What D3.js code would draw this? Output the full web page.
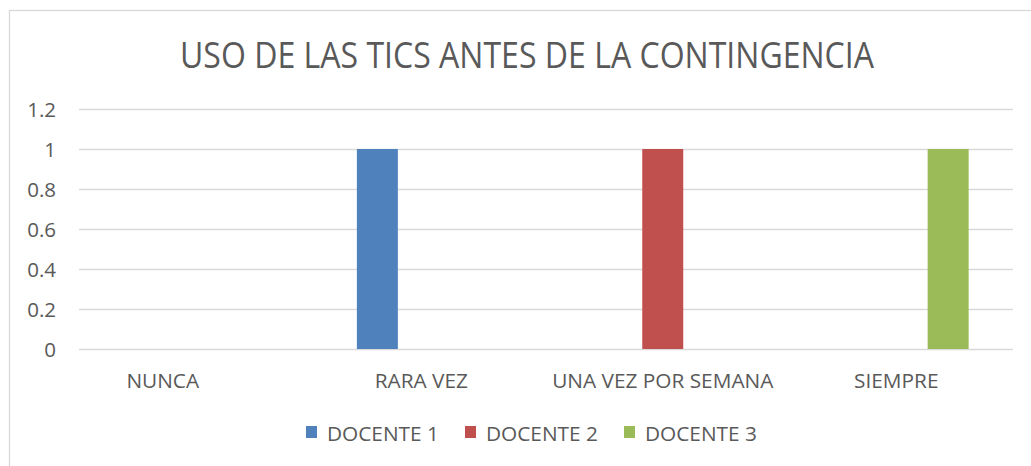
<!DOCTYPE html>
<html>
<head>
<meta charset="utf-8">
<script src="https://cdn.jsdelivr.net/npm/d3@7"></script>
<style>
  body { margin: 0; background: #fff; }
  text { font-family: "Open Sans", "Noto Sans", sans-serif; fill: #595959; }
</style>
</head>
<body>
<svg id="chart"></svg>
<script>
// datos del grafico
var categories = ["NUNCA", "RARA VEZ", "UNA VEZ POR SEMANA", "SIEMPRE"];
var seriesNames = ["DOCENTE 1", "DOCENTE 2", "DOCENTE 3"];
var docente1 = [0, 1, 0, 0];
var docente2 = [0, 0, 1, 0];
var docente3 = [0, 0, 0, 1];
var yTicks = [0, 0.2, 0.4, 0.6, 0.8, 1, 1.2];
var title = "USO DE LAS TICS ANTES DE LA CONTINGENCIA";

function run() {
var width = 1031, height = 466;
var colors = ["#4f81bd", "#c0504d", "#9bbb59"];
var values = [docente1, docente2, docente3];
// desplazamiento de las etiquetas del eje x (en el original no estan centradas)
var labelShift = { "NUNCA": -33, "RARA VEZ": -8 };

var svg = d3.select("#chart").attr("width", width).attr("height", height);

// borde del area del grafico
svg.append("rect")
  .attr("x", 9.5).attr("y", 10.5)
  .attr("width", width).attr("height", height)
  .attr("fill", "none").attr("stroke", "#d9d9d9").attr("stroke-width", 1.3);

var x0 = d3.scaleBand().domain(categories).range([79, 1013]);
var x1 = d3.scaleBand().domain(seriesNames)
  .range([x0.bandwidth() * 0.19, x0.bandwidth() * 0.81])
  .paddingInner(0.21);
var y = d3.scaleLinear().domain([0, 1.2]).range([349, 109]);

// titulo
svg.append("text")
  .attr("x", 527).attr("y", 68)
  .attr("text-anchor", "middle")
  .style("font-size", "36px")
  .attr("textLength", 694).attr("lengthAdjust", "spacingAndGlyphs")
  .text(title);

// lineas de cuadricula
svg.append("g")
  .selectAll("line")
  .data(yTicks)
  .enter()
  .append("line")
  .attr("x1", 79).attr("x2", 1013)
  .attr("y1", function (d) { return Math.round(y(d)) + 0.5; })
  .attr("y2", function (d) { return Math.round(y(d)) + 0.5; })
  .attr("stroke", "#d9d9d9").attr("stroke-width", 1.3);

// eje y
var yAxis = svg.append("g")
  .attr("transform", "translate(56,0)")
  .call(d3.axisLeft(y).tickValues(yTicks).tickSize(0).tickPadding(0).tickFormat(d3.format("")));
yAxis.select(".domain").remove();
yAxis.selectAll("text").style("font-size", "20.5px").attr("dy", "0.36em").style("fill", "#595959");

// eje x
var xAxis = svg.append("g")
  .attr("transform", "translate(0,349)")
  .call(d3.axisBottom(x0).tickSize(0).tickPadding(0));
xAxis.select(".domain").remove();
xAxis.selectAll("text")
  .style("font-size", "20.8px").style("fill", "#595959")
  .attr("y", 38.5).attr("dy", 0)
  .attr("dx", function (d) { return labelShift[d] || 0; });

// barras
var groups = svg.append("g")
  .selectAll("g")
  .data(categories)
  .enter()
  .append("g")
  .attr("transform", function (d) { return "translate(" + x0(d) + ",0)"; });

groups.selectAll("rect")
  .data(function (c, ci) {
    return seriesNames.map(function (s, si) { return { s: s, i: si, v: values[si][ci] }; });
  })
  .enter()
  .append("rect")
  .filter(function (d) { return d.v > 0; })
  .attr("x", function (d) { return x1(d.s); })
  .attr("width", x1.bandwidth())
  .attr("y", function (d) { return y(d.v); })
  .attr("height", function (d) { return y(0) - y(d.v); })
  .attr("fill", function (d) { return colors[d.i]; });

// leyenda
var legend = svg.append("g")
  .selectAll("g")
  .data(seriesNames)
  .enter()
  .append("g")
  .attr("transform", function (d, i) { return "translate(" + (306 + i * 159) + ",426)"; });
legend.append("rect")
  .attr("width", 11).attr("height", 12)
  .attr("fill", function (d, i) { return colors[i]; });
legend.append("text")
  .attr("x", 21).attr("y", 14.5)
  .style("font-size", "20.8px")
  .text(function (d) { return d; });
}

run();
</script>
</body>
</html>
